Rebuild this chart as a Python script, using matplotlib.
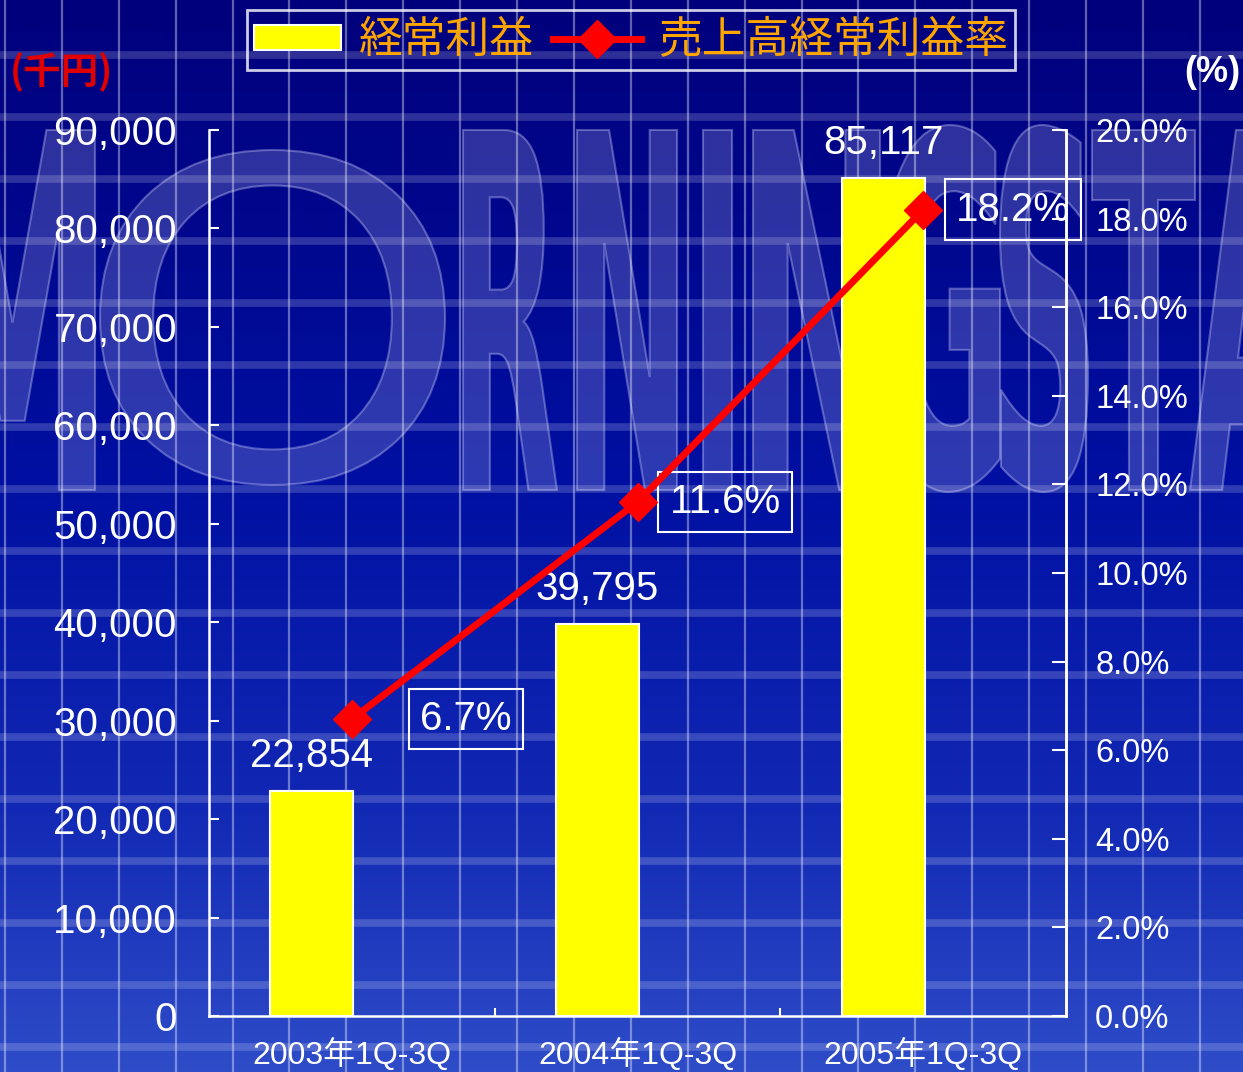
import numpy as np
import matplotlib
matplotlib.use("Agg")
import matplotlib.pyplot as plt
from matplotlib.textpath import TextPath
from matplotlib.font_manager import FontProperties
from matplotlib.path import Path
from matplotlib.patches import PathPatch, Patch
from matplotlib.lines import Line2D
from matplotlib.ticker import FuncFormatter, FixedLocator
from matplotlib.colors import LinearSegmentedColormap

# ---- data ----
categories = ["2003年1Q-3Q", "2004年1Q-3Q", "2005年1Q-3Q"]
profit = [22854, 39795, 85117]          # 経常利益 (千円)
margin = [6.7, 11.6, 18.2]              # 売上高経常利益率 (%)
left_ticks = [0, 10000, 20000, 30000, 40000, 50000, 60000, 70000, 80000, 90000]
right_ticks = [0, 2, 4, 6, 8, 10, 12, 14, 16, 18, 20]
legend_labels = ["経常利益", "売上高経常利益率"]

W, H = 1243, 1072
DPI = 100
PT = 72 / DPI  # points per pixel

FONT = ["Liberation Sans", "Noto Sans CJK JP", "DejaVu Sans"]
CJK = ["Noto Sans CJK JP", "DejaVu Sans"]
plt.rcParams["font.family"] = FONT

fig = plt.figure(figsize=(W / DPI, H / DPI), dpi=DPI)

# ---- background ----
bg = fig.add_axes([0, 0, 1, 1], zorder=0)
bg.set_xlim(0, W)
bg.set_ylim(H, 0)
bg.axis("off")
cmap = LinearSegmentedColormap.from_list(
    "bgc", [(0.0, "#00007c"), (0.45, "#0010a2"), (0.75, "#1128b4"), (1.0, "#2e4cc8")])
grad = np.linspace(0, 1, 256).reshape(-1, 1)
bg.imshow(grad, cmap=cmap, aspect="auto", extent=[0, W, H, 0], zorder=0)

# watermark letters
letters = [("M", -70, 95, 130, 490, "bold"), ("O", 100, 445, 150, 485, "normal"),
           ("R", 463, 557, 130, 490, "bold"), ("N", 577, 677, 130, 490, "bold"),
           ("I", 703, 732, 130, 490, "bold"), ("N", 753, 880, 130, 490, "bold"),
           ("G", 880, 1000, 125, 492, "bold"), ("S", 1000, 1088, 125, 492, "bold"),
           ("T", 1092, 1195, 130, 490, "bold"), ("A", 1190, 1320, 130, 490, "bold")]
for ch, x0, x1, y0, y1, wt in letters:
    fp = FontProperties(family="DejaVu Sans", weight=wt)
    tp = TextPath((0, 0), ch, size=1, prop=fp)
    ext = tp.get_extents()
    v = tp.vertices.copy()
    nv = np.empty_like(v)
    nv[:, 0] = x0 + (v[:, 0] - ext.x0) / ext.width * (x1 - x0)
    nv[:, 1] = y1 - (v[:, 1] - ext.y0) / ext.height * (y1 - y0)
    p = Path(nv, tp.codes)
    bg.add_patch(PathPatch(p, facecolor=(0.75, 0.75, 0.92, 0.24),
                           edgecolor=(0.85, 0.85, 1.0, 0.35), lw=1.5, zorder=1))

# grid lines
for i in range(-1, 23):
    bg.axvline(5 + i * 56.9, color="white", alpha=0.38, lw=1.6, zorder=2)
for i in range(-1, 19):
    bg.axhline(55 + i * 62, color="white", alpha=0.18, lw=5.5, zorder=2)

# ---- main axes ----
L, R, B, T = 209, 1066, 1016, 130
ax = fig.add_axes([L / W, 1 - B / H, (R - L) / W, (B - T) / H], zorder=2)
ax.set_facecolor("none")
x = np.arange(len(categories))
bar_off = -0.14
bar_w = 0.29
ax.bar(x + bar_off, profit, width=bar_w, color="#ffff00", edgecolor="white", linewidth=1.5, zorder=3)
ax.set_xlim(-0.5, len(categories) - 0.5)
ax.set_ylim(0, 90000)
ax.yaxis.set_major_locator(FixedLocator(left_ticks))
ax.yaxis.set_major_formatter(FuncFormatter(lambda v, p: f"{int(v):,}"))
ax.set_xticks(x)
ax.set_xticklabels(categories)
ax.set_xticks([0.5, 1.5], minor=True)
ax.tick_params(axis="x", which="major", length=0, pad=16, labelsize=23, colors="white")
ax.tick_params(axis="x", which="minor", direction="in", length=6, width=1.5, color="white")
ax.tick_params(axis="y", direction="in", length=7, width=1.5, color="white",
               labelcolor="white", labelsize=29, pad=23)
ax.spines["top"].set_visible(False)
for s in ["left", "bottom", "right"]:
    ax.spines[s].set_color("white")
    ax.spines[s].set_linewidth(1.8)

for xi, v in zip(x, profit):
    ax.annotate(f"{v:,}", (xi + bar_off, v), xytext=(0, 24 * PT), textcoords="offset points",
                ha="center", va="baseline", color="white", fontsize=29, zorder=5)

ax2 = ax.twinx()
ax2.set_ylim(0, 20)
ax2.yaxis.set_major_locator(FixedLocator(right_ticks))
ax2.yaxis.set_major_formatter(FuncFormatter(lambda v, p: f"{v:.1f}%"))
ax2.tick_params(axis="y", direction="in", length=10, width=1.5, color="white",
                labelcolor="white", labelsize=23.5, pad=21)
for s in ["top", "left", "bottom"]:
    ax2.spines[s].set_visible(False)
ax2.spines["right"].set_color("white")
ax2.spines["right"].set_linewidth(1.8)
ax2.plot(x, margin, color="#ff0000", lw=5, marker="D", markersize=19, zorder=4)

label_dx = [68, 32, 33]
for xi, v, dx in zip(x, margin, label_dx):
    ax2.annotate(f"{v:.1f}%", (xi, v), xytext=(dx * PT, 0), textcoords="offset points",
                 ha="left", va="center", color="white", fontsize=29,
                 bbox=dict(boxstyle="square,pad=0.28", facecolor="none", edgecolor="white", lw=1.5))

# ---- legend ----
handles = [Patch(facecolor="#ffff00", edgecolor="white", linewidth=1.5),
           Line2D([0], [0], color="#ff0000", lw=5, marker="D", markersize=19)]
leg = fig.legend(handles, legend_labels, loc="center", bbox_to_anchor=(631 / W, 1 - 40 / H),
                 ncol=2, frameon=True, fancybox=False, handlelength=2.0, handleheight=0.5,
                 handletextpad=0.4, columnspacing=0.45, borderpad=0.15, borderaxespad=0,
                 prop=FontProperties(family=CJK, size=31.5))
leg.get_frame().set_facecolor("none")
leg.get_frame().set_edgecolor("white")
leg.get_frame().set_linewidth(2)
for t in leg.get_texts():
    t.set_color("#ffa500")

fig.text(10 / W, 1 - 72 / H, "(千円)", color="#e00000", fontsize=27, fontweight="bold",
         ha="left", va="center", family=CJK)
fig.text(1240 / W, 1 - 72 / H, "(%)", color="white", fontsize=26, fontweight="bold",
         ha="right", va="center", family=FONT)

fig.savefig("out.png", dpi=DPI)
